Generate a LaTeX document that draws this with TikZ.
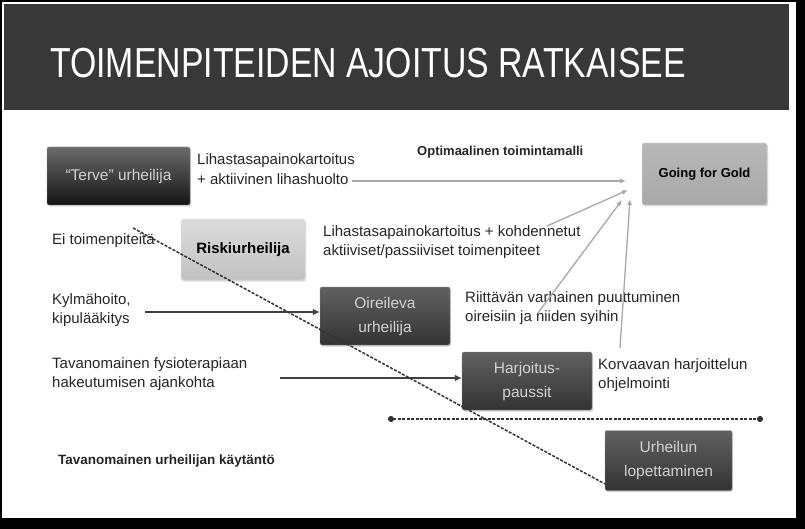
\documentclass[tikz,border=0pt]{standalone}
\usepackage{fontspec}
\setmainfont{Liberation Sans}
\usetikzlibrary{arrows.meta,shadows}
\definecolor{band}{HTML}{383838}
\definecolor{boxtxt}{HTML}{D2D2D2}
\definecolor{greyline}{HTML}{A8A8A8}
\begin{document}
\begin{tikzpicture}[x=1pt,y=-1pt,
    darkbox/.style={rounded corners=2pt, top color=black!62, bottom color=black!80,
        draw=black!45, text=boxtxt, align=center, font=\fontsize{15.5}{24}\selectfont,
        drop shadow={opacity=0.35, shadow xshift=1pt, shadow yshift=-1.5pt}},
    lightbox/.style={rounded corners=2pt, top color=black!14, bottom color=black!24,
        draw=black!10, align=center, font=\bfseries\fontsize{15}{18}\selectfont,
        drop shadow={opacity=0.3, shadow xshift=1pt, shadow yshift=-1.5pt}},
    txt/.style={anchor=west, inner sep=0pt, align=left, text=black!85,
        font=\fontsize{15}{19.5}\selectfont},
    greyarr/.style={draw=greyline, line width=1.3pt, -{Latex[length=6pt,width=5pt]}},
    darkarr/.style={draw=black!75, line width=2pt, -{Latex[length=7pt,width=7pt]}}]
    \useasboundingbox (0,0) rectangle (805,529);
    % frame and title
    \fill[black] (0,0) rectangle (805,529);
    \fill[white] (2,2) rectangle (796,518);
    \fill[band] (4,4) rectangle (789,110);
    \node[anchor=base west, inner sep=0pt, text=white] (title) at (50,78)
        {\scalebox{0.805}[1]{\fontsize{42}{42}\selectfont TOIMENPITEIDEN AJOITUS RATKAISEE}};

    % boxes
    \node[darkbox, top color=black!58, bottom color=black!92, minimum width=143pt, minimum height=58pt] (terve) at (118.5,176) {“Terve” urheilija};
    \node[lightbox, top color=black!28, bottom color=black!34, draw=black!8,
        font=\bfseries\fontsize{13}{16}\selectfont, minimum width=125pt, minimum height=62pt] (gold) at (704.5,174) {Going for Gold};
    \node[lightbox, minimum width=124pt, minimum height=61pt] (risk) at (243,249.5) {Riskiurheilija};
    \node[darkbox, minimum width=130pt, minimum height=58pt] (oire) at (385,316) {Oireileva\\urheilija};
    \node[darkbox, minimum width=130pt, minimum height=58pt] (harj) at (527,381) {Harjoitus-\\paussit};
    \node[darkbox, minimum width=127pt, minimum height=60pt] (stop) at (668.5,460.5) {Urheilun\\lopettaminen};

    % texts
    \node[txt] (lihas) at (197,169) {Lihastasapainokartoitus\\+ aktiivinen lihashuolto};
    \node[txt, font=\bfseries\fontsize{13}{15}\selectfont] (opti) at (417,152) {Optimaalinen toimintamalli};
    \node[txt] (ei) at (52,241) {Ei toimenpiteitä};
    \node[txt] (kohd) at (323,242) {Lihastasapainokartoitus + kohdennetut\\aktiiviset/passiiviset toimenpiteet};
    \node[txt] (kylma) at (52,310) {Kylmähoito,\\kipulääkitys};
    \node[txt] (varh) at (465,308) {Riittävän varhainen puuttuminen\\oireisiin ja niiden syihin};
    \node[txt] (tavan) at (52,374) {Tavanomainen fysioterapiaan\\hakeutumisen ajankohta};
    \node[txt] (korv) at (598,375) {Korvaavan harjoittelun\\ohjelmointi};
    \node[txt, font=\bfseries\fontsize{13.5}{15}\selectfont] (kayt) at (58,461) {Tavanomainen urheilijan käytäntö};

    % free ends
    \coordinate (g1) at (626,181);
    \coordinate (g2) at (628,190);
    \coordinate (g3) at (622,200);
    \coordinate (g4) at (630,199);
    \coordinate (s1) at (352,181);
    \coordinate (s2) at (547,226);
    \coordinate (s3) at (538,313);
    \coordinate (s4) at (620,348);
    \coordinate (k1) at (145,312);
    \coordinate (t1) at (280,378);
    \coordinate (barl) at (388,419);
    \coordinate (barr) at (763,419);
    \coordinate (dstart) at (133,228);
    \coordinate (dend) at (605,484);

    % connectors
    \draw[greyarr] (s1) -- (g1);
    \draw[greyarr] (s2) -- (g2);
    \draw[greyarr] (s3) -- (g3);
    \draw[greyarr] (s4) -- (g4);
    \draw[darkarr] (k1) -- (oire.west |- k1);
    \draw[darkarr] (t1) -- (harj.west |- t1);
    \draw[black!80, line width=1.6pt, dash pattern=on 3pt off 1.5pt,
        {Circle[length=6pt]}-{Circle[length=6pt]}] (barl) -- (barr);
    \draw[black!80, line width=1.5pt, dash pattern=on 3pt off 1.5pt] (dstart) -- (dend);
\end{tikzpicture}
\end{document}
